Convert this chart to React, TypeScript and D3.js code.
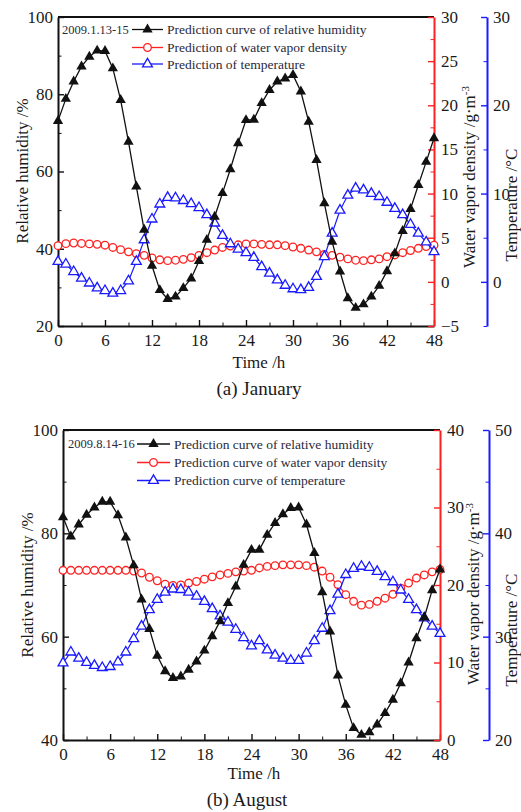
import { useEffect, useRef } from "react";
import * as d3 from "d3";

// hours 0..48 (hourly samples)
const hours = d3.range(0, 49);

// (a) January, 2009.1.13-15
const janHumidity = [73.1, 78.8, 83.3, 87.2, 89.7, 91.3, 91.2, 86.7, 78.5, 67.7, 56.1, 44.9, 35.6, 29.3, 27.0, 27.6, 29.8, 32.3, 36.8, 42.3, 48.3, 54.4, 60.6, 67.3, 73.3, 73.4, 77.7, 81.1, 83.3, 84.1, 85.0, 80.7, 72.9, 63.0, 51.8, 41.8, 34.1, 27.2, 24.7, 25.6, 27.6, 30.4, 34.2, 38.8, 44.6, 50.3, 56.5, 62.5, 68.6];
const janVapor = [4.1, 4.33, 4.4, 4.35, 4.3, 4.25, 4.15, 3.9, 3.65, 3.4, 3.2, 3.0, 2.7, 2.5, 2.4, 2.45, 2.55, 2.75, 3.0, 3.3, 3.6, 3.9, 4.05, 4.2, 4.3, 4.3, 4.25, 4.2, 4.2, 4.1, 3.95, 3.8, 3.6, 3.4, 3.1, 3.0, 2.8, 2.6, 2.45, 2.4, 2.5, 2.6, 2.85, 3.05, 3.3, 3.55, 3.8, 4.0, 4.15];
const janTemp = [2.3, 2.0, 1.15, 0.4, -0.15, -0.7, -1.0, -1.3, -1.0, 0.1, 2.3, 4.75, 7.1, 8.8, 9.55, 9.5, 9.2, 8.85, 8.4, 7.6, 6.65, 5.25, 4.3, 3.7, 3.3, 2.75, 1.7, 0.97, 0.2, -0.4, -0.8, -0.9, -0.65, 0.6, 2.85, 5.5, 8.1, 9.8, 10.6, 10.4, 10.0, 9.65, 9.0, 8.3, 7.6, 6.5, 5.5, 4.5, 3.4];

// (b) August, 2009.8.14-16
const augHumidity = [83.1, 79.4, 81.7, 83.6, 85.0, 86.1, 86.1, 83.5, 79.2, 73.8, 67.2, 61.5, 56.3, 53.3, 52.0, 52.3, 53.6, 55.2, 57.3, 60.1, 63.0, 66.5, 69.7, 73.9, 76.8, 76.8, 79.7, 82.0, 83.7, 84.9, 85.0, 81.7, 76.2, 68.6, 61.0, 52.5, 46.8, 42.3, 41.0, 41.5, 43.0, 45.2, 47.8, 51.0, 55.0, 59.7, 63.7, 69.0, 73.0];
const augVapor = [21.9, 21.9, 21.9, 21.9, 21.9, 21.9, 21.9, 21.9, 21.9, 21.8, 21.55, 21.0, 20.55, 20.1, 19.95, 20.0, 20.25, 20.45, 20.75, 21.05, 21.3, 21.5, 21.7, 21.8, 21.9, 22.2, 22.4, 22.5, 22.6, 22.6, 22.6, 22.5, 22.3, 21.8, 21.0, 20.05, 18.75, 17.9, 17.4, 17.5, 17.9, 18.3, 18.8, 19.6, 20.25, 20.9, 21.3, 21.7, 22.0];
const augTemp = [27.45, 28.5, 27.9, 27.5, 27.2, 27.0, 27.1, 27.55, 28.5, 29.8, 31.0, 32.6, 33.6, 34.3, 34.6, 34.55, 34.3, 33.9, 33.4, 32.7, 32.0, 31.4, 30.7, 29.9, 29.1, 29.6, 28.7, 28.2, 27.9, 27.7, 27.7, 28.4, 29.6, 30.8, 32.5, 34.1, 36.0, 36.6, 36.8, 36.7, 36.3, 35.8, 35.3, 34.5, 33.6, 32.6, 31.8, 31.0, 30.3];

// ticks
const timeTicks = [0, 6, 12, 18, 24, 30, 36, 42, 48];
const timeMinor = [3, 9, 15, 21, 27, 33, 39, 45];
const janRhTicks = [20, 40, 60, 80, 100];
const janRhMinor = [30, 50, 70, 90];
const janVaporTicks = [-5, 0, 5, 10, 15, 20, 25, 30];
const janVaporMinor = [-2.5, 2.5, 7.5, 12.5, 17.5, 22.5, 27.5];
const janTempTicks = [0, 10, 20, 30];
const janTempMinor = [-5, 5, 15, 25];
const augRhTicks = [40, 60, 80, 100];
const augRhMinor = [50, 70, 90];
const augVaporTicks = [0, 10, 20, 30, 40];
const augVaporMinor = [5, 15, 25, 35];
const augTempTicks = [20, 30, 40, 50];
const augTempMinor = [25, 35, 45];

const janLegend = ["Prediction curve of relative humidity", "Prediction of water vapor density", "Prediction of temperature"];
const augLegend = ["Prediction curve of relative humidity", "Prediction curve of water vapor density", "Prediction curve of temperature"];

const FONT = "\"Liberation Serif\", \"DejaVu Serif\", serif";
const RED = "#ff2020";
const BLUE = "#1a1aff";

const panels = [
    {
        top: 17, bottom: 326, left: 58, right: 434, tempX: 487,
        humidity: janHumidity, vapor: janVapor, temp: janTemp,
        rhDomain: [20, 100], rhTicks: janRhTicks, rhMinor: janRhMinor,
        vapDomain: [-5, 30], vapTicks: janVaporTicks, vapMinor: janVaporMinor,
        tempDomain: [-5, 30], tempTicks: janTempTicks, tempMinor: janTempMinor,
        date: "2009.1.13-15", legend: janLegend, legendX: 62, legendLine: [132, 163], legendY: [29.5, 47.5, 64],
        rhTitle: [22, 171], vapTitle: [469, 177], tempTitle: [511.5, 205],
        timeTitle: [259, 368], caption: "(a) January", captionPos: [259, 395],
    },
    {
        top: 430, bottom: 740, left: 63, right: 440, tempX: 489,
        humidity: augHumidity, vapor: augVapor, temp: augTemp,
        rhDomain: [40, 100], rhTicks: augRhTicks, rhMinor: augRhMinor,
        vapDomain: [0, 40], vapTicks: augVaporTicks, vapMinor: augVaporMinor,
        tempDomain: [20, 50], tempTicks: augTempTicks, tempMinor: augTempMinor,
        date: "2009.8.14-16", legend: augLegend, legendX: 68, legendLine: [137, 170], legendY: [444, 462.5, 480.5],
        rhTitle: [27, 585], vapTitle: [473, 594], tempTitle: [511.5, 630],
        timeTitle: [254, 779], caption: "(b) August", captionPos: [247, 806],
    },
];

function styleAxis(g, color) {
    g.attr("font-family", null).attr("font-size", null)
        .style("font-family", FONT).style("font-size", "17px").attr("color", color);
    g.selectAll("text").attr("fill", "#1a1a1a");
    g.select(".domain").attr("stroke-width", 2);
    g.selectAll(".tick line").attr("stroke-width", 1.4);
}

function drawPanel(svg, p) {
    const g = svg.append("g");

    const x = d3.scaleLinear().domain([0, 48]).range([p.left, p.right]);
    const yRh = d3.scaleLinear().domain(p.rhDomain).range([p.bottom, p.top]);
    const yVap = d3.scaleLinear().domain(p.vapDomain).range([p.bottom, p.top]);
    const yTemp = d3.scaleLinear().domain(p.tempDomain).range([p.bottom, p.top]);

    // top frame
    g.append("line")
        .attr("x1", p.left).attr("x2", p.right)
        .attr("y1", p.top).attr("y2", p.top)
        .attr("stroke", "#111").attr("stroke-width", 2);

    // x axis
    const xa = g.append("g").attr("transform", `translate(0,${p.bottom})`)
        .call(d3.axisBottom(x).tickValues(timeTicks).tickSizeInner(-6).tickSizeOuter(0).tickPadding(8));
    styleAxis(xa, "#111");
    xa.append("g").call(d3.axisBottom(x).tickValues(timeMinor).tickSize(-3.5).tickFormat(() => ""))
        .call(s => s.select(".domain").remove()).attr("color", "#111");

    // left axis
    const la = g.append("g").attr("transform", `translate(${p.left},0)`)
        .call(d3.axisLeft(yRh).tickValues(p.rhTicks).tickSizeInner(-6).tickSizeOuter(0).tickPadding(5));
    styleAxis(la, "#111");
    la.append("g").call(d3.axisLeft(yRh).tickValues(p.rhMinor).tickSize(-3.5).tickFormat(() => ""))
        .call(s => s.select(".domain").remove()).attr("color", "#111");

    // right red axis (water vapor density)
    const ra = g.append("g").attr("transform", `translate(${p.right},0)`)
        .call(d3.axisRight(yVap).tickValues(p.vapTicks).tickSizeInner(-6).tickSizeOuter(0).tickPadding(7));
    styleAxis(ra, RED);
    ra.append("g").call(d3.axisRight(yVap).tickValues(p.vapMinor).tickSize(-3.5).tickFormat(() => ""))
        .call(s => s.select(".domain").remove()).attr("color", RED);

    // far right blue axis (temperature)
    const ba = g.append("g").attr("transform", `translate(${p.tempX},0)`)
        .call(d3.axisRight(yTemp).tickValues(p.tempTicks).tickSizeInner(-6).tickSizeOuter(0).tickPadding(6));
    styleAxis(ba, BLUE);
    ba.append("g").call(d3.axisRight(yTemp).tickValues(p.tempMinor).tickSize(-3.5).tickFormat(() => ""))
        .call(s => s.select(".domain").remove()).attr("color", BLUE);

    const tri = d3.symbol(d3.symbolTriangle, 42);

    // water vapor density
    const vapLine = d3.line().x((d, i) => x(hours[i])).y(d => yVap(d));
    g.append("path").datum(p.vapor).attr("fill", "none").attr("stroke", RED).attr("stroke-width", 1.2).attr("d", vapLine);
    g.append("g").selectAll("circle").data(p.vapor).join("circle")
        .attr("cx", (d, i) => x(hours[i])).attr("cy", d => yVap(d)).attr("r", 3.8)
        .attr("fill", "#fff").attr("stroke", RED).attr("stroke-width", 1.3);

    // temperature
    const tempLine = d3.line().x((d, i) => x(hours[i])).y(d => yTemp(d));
    g.append("path").datum(p.temp).attr("fill", "none").attr("stroke", BLUE).attr("stroke-width", 1.2).attr("d", tempLine);
    g.append("g").selectAll("path").data(p.temp).join("path")
        .attr("transform", (d, i) => `translate(${x(hours[i])},${yTemp(d)})`).attr("d", tri)
        .attr("fill", "#fff").attr("stroke", BLUE).attr("stroke-width", 1.3);

    // relative humidity
    const rhLine = d3.line().x((d, i) => x(hours[i])).y(d => yRh(d));
    g.append("path").datum(p.humidity).attr("fill", "none").attr("stroke", "#111").attr("stroke-width", 1.3).attr("d", rhLine);
    g.append("g").selectAll("path").data(p.humidity).join("path")
        .attr("transform", (d, i) => `translate(${x(hours[i])},${yRh(d)})`).attr("d", d3.symbol(d3.symbolTriangle, 46))
        .attr("fill", "#111");

    // legend
    const lg = g.append("g").style("font-family", FONT).style("font-size", "13.5px").attr("fill", "#2a2a3a");
    lg.append("text").attr("x", p.legendX).attr("y", p.legendY[0]).attr("dy", "0.35em").style("font-size", "12.5px").text(p.date);
    const colors = ["#111", RED, BLUE];
    const [lx1, lx2] = p.legendLine;
    const mx = (lx1 + lx2) / 2;
    p.legend.forEach((label, i) => {
        const ly = p.legendY[i];
        lg.append("line").attr("x1", lx1).attr("x2", lx2).attr("y1", ly).attr("y2", ly)
            .attr("stroke", colors[i]).attr("stroke-width", 1.3);
        if (i === 0) {
            lg.append("path").attr("transform", `translate(${mx},${ly})`).attr("d", d3.symbol(d3.symbolTriangle, 46)).attr("fill", "#111");
        } else if (i === 1) {
            lg.append("circle").attr("cx", mx).attr("cy", ly).attr("r", 3.8).attr("fill", "#fff").attr("stroke", RED).attr("stroke-width", 1.3);
        } else {
            lg.append("path").attr("transform", `translate(${mx},${ly})`).attr("d", tri).attr("fill", "#fff").attr("stroke", BLUE).attr("stroke-width", 1.3);
        }
        lg.append("text").attr("x", lx2 + 4).attr("y", ly).attr("dy", "0.35em").text(label);
    });

    // titles
    const tg = g.append("g").style("font-family", FONT).style("font-size", "17px").attr("fill", "#1a1a1a").attr("text-anchor", "middle");
    tg.append("text").attr("transform", `translate(${p.rhTitle[0]},${p.rhTitle[1]}) rotate(-90)`)
        .attr("dy", "0.35em").text("Relative humidity /%");
    const vt = tg.append("text").attr("transform", `translate(${p.vapTitle[0]},${p.vapTitle[1]}) rotate(-90)`)
        .attr("dy", "0.35em");
    vt.append("tspan").text("Water vapor density  /g·m");
    vt.append("tspan").attr("dy", "-0.5em").style("font-size", "11px").text("-3");
    tg.append("text").attr("transform", `translate(${p.tempTitle[0]},${p.tempTitle[1]}) rotate(-90)`)
        .attr("dy", "0.35em").text("Temperature /°C");
    tg.append("text").attr("x", p.timeTitle[0]).attr("y", p.timeTitle[1]).text("Time /h");
    tg.append("text").attr("x", p.captionPos[0]).attr("y", p.captionPos[1]).style("font-size", "19px").text(p.caption);
}

export default function App() {
    const svgRef = useRef(null);

    useEffect(() => {
        const svg = d3.select(svgRef.current);
        svg.selectAll("*").remove();
        svg.append("rect").attr("width", 521).attr("height", 812).attr("fill", "#fff");
        panels.forEach(p => drawPanel(svg, p));
    }, []);

    return <svg ref={svgRef} width={521} height={812} style={{ position: "absolute", left: 0, top: 0 }}></svg>;
}
